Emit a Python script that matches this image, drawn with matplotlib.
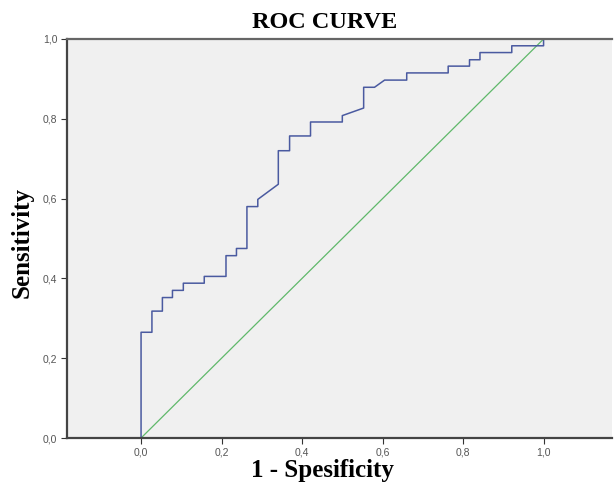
import matplotlib
matplotlib.use('Agg')
import matplotlib.pyplot as plt
from matplotlib.ticker import FuncFormatter

# ROC step curve vertices
fpr = [0.0, 0.0, 0.027, 0.027, 0.053, 0.053, 0.078, 0.078, 0.105, 0.105,
       0.157, 0.157, 0.211, 0.211, 0.237, 0.237, 0.263, 0.263, 0.29, 0.29,
       0.341, 0.341, 0.369, 0.369, 0.421, 0.421, 0.5, 0.5, 0.553, 0.553,
       0.58, 0.605, 0.66, 0.66, 0.763, 0.763, 0.816, 0.816, 0.842, 0.842,
       0.921, 0.921, 1.0, 1.0]
tpr = [0.0, 0.265, 0.265, 0.318, 0.318, 0.352, 0.352, 0.37, 0.37, 0.388,
       0.388, 0.405, 0.405, 0.457, 0.457, 0.475, 0.475, 0.58, 0.58, 0.598,
       0.636, 0.72, 0.72, 0.757, 0.757, 0.792, 0.792, 0.808, 0.827, 0.879,
       0.879, 0.897, 0.897, 0.915, 0.915, 0.932, 0.932, 0.948, 0.948, 0.966,
       0.966, 0.983, 0.983, 1.0]
ref_line = [0.0, 1.0]
x_ticks = [0.0, 0.2, 0.4, 0.6, 0.8, 1.0]
y_ticks = [0.0, 0.2, 0.4, 0.6, 0.8, 1.0]

W, H = 614, 486
fig = plt.figure(figsize=(W / 100, H / 100), dpi=100)
ax = fig.add_axes([67 / W, 1 - 438 / H, (612 - 67) / W, (438 - 39) / H])
ax.set_facecolor('#f0f0f0')

ax.plot(ref_line, ref_line, color='#5fb86a', linewidth=0.9)
ax.plot(fpr, tpr, color='#4a5aa0', linewidth=1.1)

ax.set_xlim(-0.184, 1.17)
ax.set_ylim(0, 1)

comma = FuncFormatter(lambda v, p: f'{v:.1f}'.replace('.', ','))
ax.set_xticks(x_ticks)
ax.set_yticks(y_ticks)
ax.xaxis.set_major_formatter(comma)
ax.yaxis.set_major_formatter(comma)
ax.tick_params(direction='out', length=4, width=0.8, color='#333333',
               labelsize=7.5, labelcolor='#555555', pad=3)
for lbl in ax.get_xticklabels() + ax.get_yticklabels():
    lbl.set_family('Liberation Sans')

for side in ['left', 'bottom', 'top']:
    ax.spines[side].set_color('#444444')
    ax.spines[side].set_linewidth(1.6)
ax.spines['top'].set_color('#666666')
ax.spines['right'].set_visible(False)

serif = 'Liberation Serif'
fig.text(325 / W, 1 - 28 / H, 'ROC CURVE', ha='center', va='baseline',
         family=serif, fontweight='bold', fontsize=17.5)
fig.text(322 / W, 1 - 477 / H, '1 - Spesificity', ha='center',
         va='baseline', family=serif, fontweight='bold', fontsize=18)
fig.text(22 / W, 1 - 243 / H, 'Sensitivity', ha='center', va='center',
         rotation=90, family=serif, fontweight='bold', fontsize=18)

fig.savefig('out.png', dpi=100, facecolor='white')
